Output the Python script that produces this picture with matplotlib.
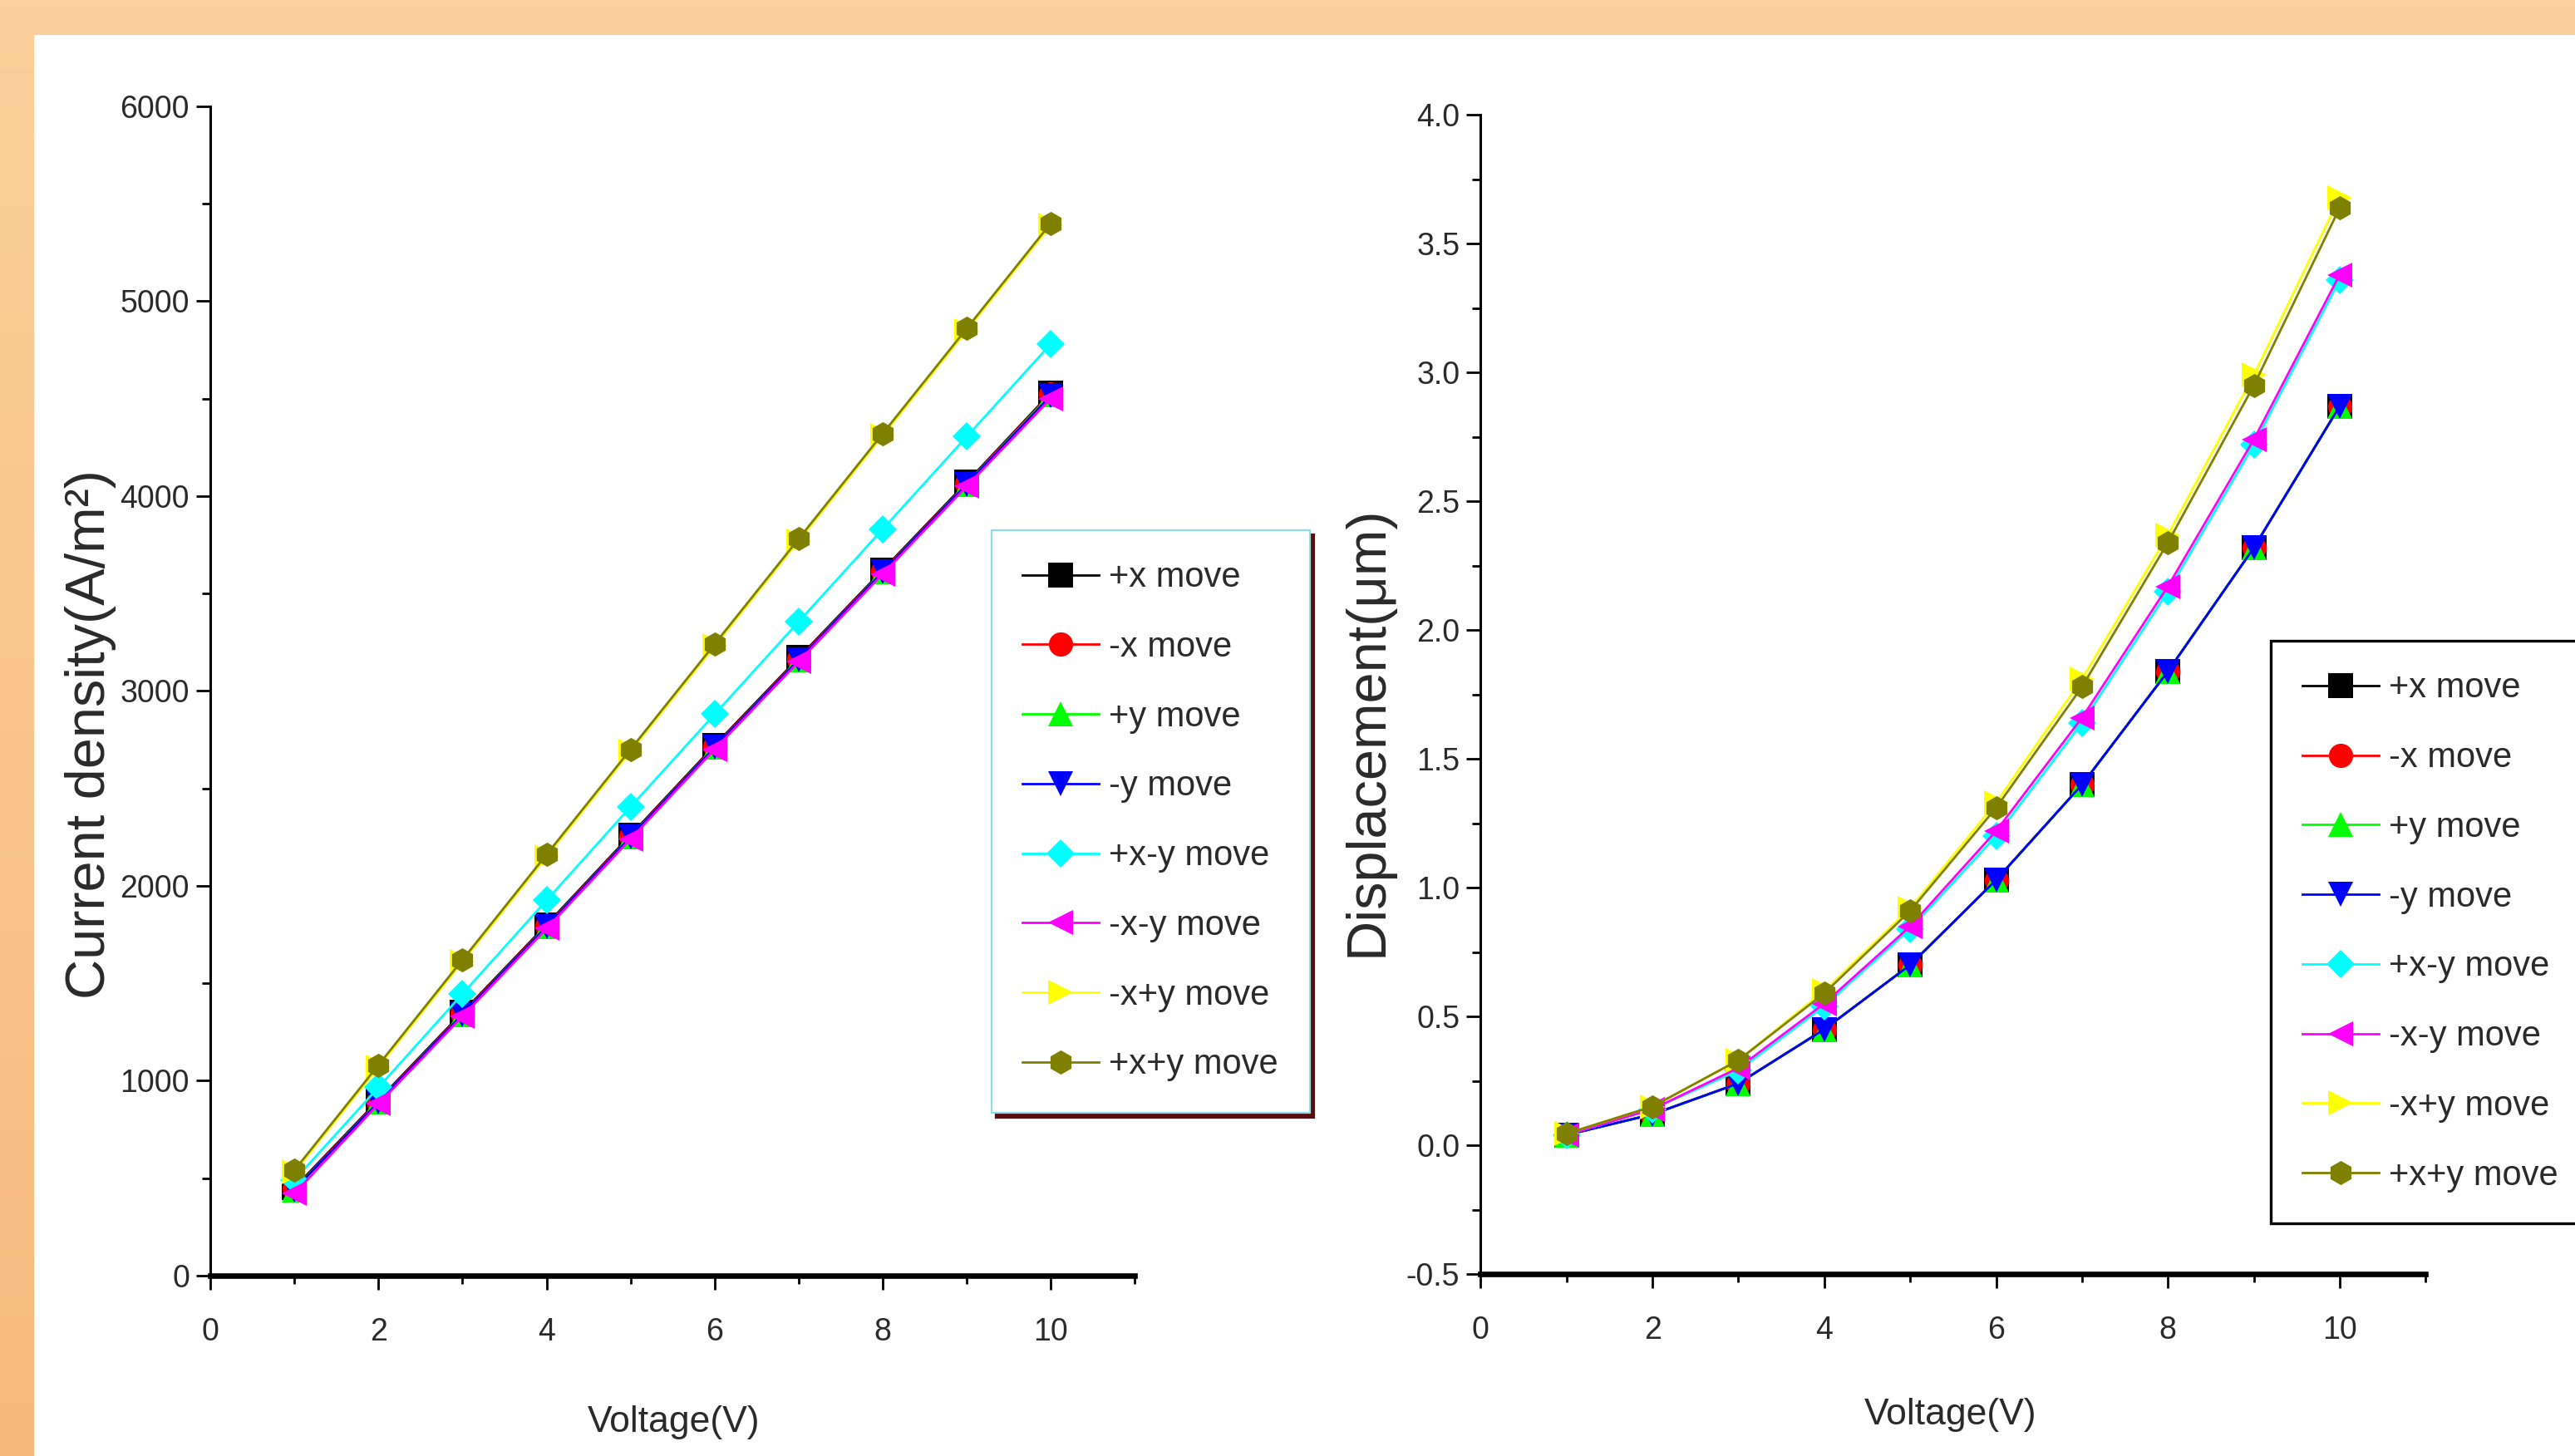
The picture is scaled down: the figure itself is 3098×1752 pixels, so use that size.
import numpy as np
import matplotlib
matplotlib.use('Agg')
import matplotlib.pyplot as plt
from matplotlib.patches import Rectangle
from matplotlib.ticker import MultipleLocator, FormatStrFormatter

plt.rcParams['font.family'] = ['Liberation Sans', 'DejaVu Sans']

voltage = [1, 2, 3, 4, 5, 6, 7, 8, 9, 10]
labels = ['+x move', '-x move', '+y move', '-y move',
          '+x-y move', '-x-y move', '-x+y move', '+x+y move']
colors = ['#000000', '#ff0000', '#00ff00', '#0000ff',
          '#00ffff', '#ff00ff', '#ffff00', '#808000']
markers = ['s', 'o', '^', 'v', 'D', '<', '>', 'h']

# current density (A/m^2)
cd_px = [450, 900, 1350, 1800, 2260, 2720, 3170, 3620, 4070, 4530]
cd_mx = [445, 895, 1345, 1795, 2255, 2715, 3165, 3615, 4065, 4525]
cd_py = [440, 890, 1340, 1790, 2250, 2710, 3160, 3610, 4060, 4520]
cd_my = [440, 890, 1340, 1790, 2250, 2710, 3160, 3610, 4060, 4515]
cd_pxmy = [490, 965, 1445, 1925, 2405, 2880, 3355, 3830, 4305, 4780]
cd_mxmy = [420, 880, 1330, 1780, 2240, 2700, 3150, 3600, 4050, 4500]
cd_mxpy = [530, 1070, 1610, 2150, 2690, 3230, 3770, 4310, 4850, 5390]
cd_pxpy = [540, 1080, 1620, 2160, 2700, 3240, 3780, 4320, 4860, 5400]

# displacement (um)
dp_px = [0.04, 0.12, 0.24, 0.45, 0.70, 1.03, 1.40, 1.84, 2.32, 2.87]
dp_mx = [0.04, 0.12, 0.24, 0.45, 0.70, 1.03, 1.40, 1.84, 2.32, 2.87]
dp_py = [0.04, 0.12, 0.24, 0.45, 0.70, 1.03, 1.40, 1.84, 2.32, 2.87]
dp_my = [0.04, 0.12, 0.24, 0.45, 0.70, 1.03, 1.40, 1.84, 2.32, 2.87]
dp_pxmy = [0.04, 0.14, 0.29, 0.54, 0.84, 1.20, 1.64, 2.15, 2.72, 3.36]
dp_mxmy = [0.04, 0.14, 0.30, 0.55, 0.85, 1.22, 1.66, 2.17, 2.74, 3.38]
dp_mxpy = [0.045, 0.15, 0.33, 0.60, 0.92, 1.33, 1.81, 2.37, 2.99, 3.68]
dp_pxpy = [0.045, 0.15, 0.33, 0.59, 0.91, 1.31, 1.78, 2.34, 2.95, 3.64]

cd_series = [cd_px, cd_mx, cd_py, cd_my, cd_pxmy, cd_mxmy, cd_mxpy, cd_pxpy]
dp_series = [dp_px, dp_mx, dp_py, dp_my, dp_pxmy, dp_mxmy, dp_mxpy, dp_pxpy]

TXT = '#2a2a2a'

fig = plt.figure(figsize=(15.49, 8.76), dpi=200)

# --- orange slide background with white panel ---
bg = fig.add_axes([0, 0, 1, 1], zorder=-10)
top = np.array([251, 208, 154]) / 255
bot = np.array([247, 186, 126]) / 255
t = np.linspace(0, 1, 256)[:, None]
grad = (top[None, :] * (1 - t) + bot[None, :] * t)[:, None, :]
bg.imshow(grad, aspect='auto', extent=[0, 1, 0, 1])
bg.add_patch(Rectangle((0.01356, 0), 1, 0.9755, color='white'))
bg.set_xlim(0, 1)
bg.set_ylim(0, 1)
bg.axis('off')


def style_axis(ax):
    ax.spines['top'].set_visible(False)
    ax.spines['right'].set_visible(False)
    ax.spines['left'].set_linewidth(1.1)
    ax.spines['bottom'].set_linewidth(2.4)
    ax.patch.set_alpha(0)
    ax.tick_params(which='major', direction='out', length=6, width=1.0,
                   labelsize=13.5, labelcolor=TXT)
    ax.tick_params(which='minor', direction='out', length=3.5, width=1.0)
    ax.tick_params(axis='x', pad=12)
    ax.tick_params(axis='y', pad=3)


def add_legend(ax, anchor, edge, shadow):
    leg = ax.legend(loc='upper left', bbox_to_anchor=anchor,
                    bbox_transform=fig.transFigure, fontsize=15,
                    numpoints=1, handlelength=2.2, handletextpad=0.3,
                    labelspacing=1.05, borderpad=0.9, borderaxespad=0,
                    fancybox=False, framealpha=1, edgecolor=edge,
                    shadow=shadow, labelcolor=TXT)
    return leg


def draw_series(ax, series):
    for vals, lab, c, m in zip(series, labels, colors, markers):
        ms = 8.5 if m == 'D' else 10.5
        ax.plot(voltage, vals, color=c, marker=m, markersize=ms, lw=1.0,
                markeredgewidth=0, label=lab)


# --- left: current density ---
ax1 = fig.add_axes([0.0817, 0.124, 0.359, 0.803])
draw_series(ax1, cd_series)
ax1.set_xlim(0, 11)
ax1.set_ylim(0, 6000)
ax1.xaxis.set_major_locator(MultipleLocator(2))
ax1.xaxis.set_minor_locator(MultipleLocator(1))
ax1.yaxis.set_major_locator(MultipleLocator(1000))
ax1.yaxis.set_minor_locator(MultipleLocator(500))
style_axis(ax1)
leg1 = add_legend(ax1, (0.385, 0.636), '#8fdde6',
                  {'color': '#5a0d0d', 'alpha': 1})
leg1.get_frame().set_linewidth(0.8)

fig.text(0.0352, 0.4954, 'Current density(A/m²)', rotation=90,
         ha='center', va='center', fontsize=24, color=TXT)
fig.text(0.2615, 0.0234, 'Voltage(V)', ha='center', va='center',
         fontsize=16, color=TXT)

# --- right: displacement ---
ax2 = fig.add_axes([0.575, 0.125, 0.367, 0.796])
draw_series(ax2, dp_series)
ax2.set_xlim(0, 11)
ax2.set_ylim(-0.5, 4.0)
ax2.xaxis.set_major_locator(MultipleLocator(2))
ax2.xaxis.set_minor_locator(MultipleLocator(1))
ax2.yaxis.set_major_locator(MultipleLocator(0.5))
ax2.yaxis.set_minor_locator(MultipleLocator(0.25))
ax2.yaxis.set_major_formatter(FormatStrFormatter('%.1f'))
style_axis(ax2)
leg2 = add_legend(ax2, (0.882, 0.56), '#000000', False)
leg2.get_frame().set_linewidth(1.2)

fig.text(0.5313, 0.4977, 'Displacement(μm)', rotation=90,
         ha='center', va='center', fontsize=24, color=TXT)
fig.text(0.7576, 0.028, 'Voltage(V)', ha='center', va='center',
         fontsize=16, color=TXT)

fig.savefig('out.png', dpi=200)
plt.close(fig)
